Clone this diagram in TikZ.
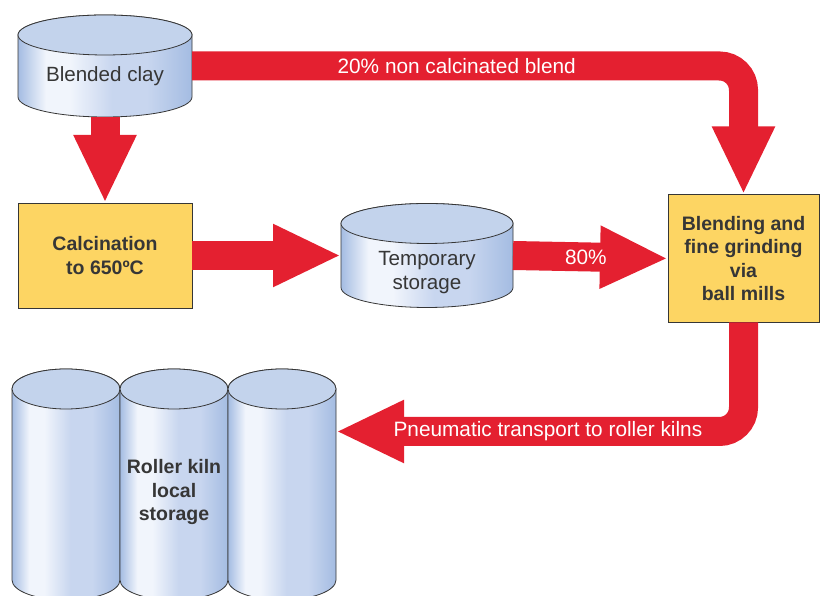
\documentclass[tikz,border=0pt]{standalone}
\usepackage{fontspec}
\setmainfont{Liberation Sans}
\usetikzlibrary{arrows.meta,calc,positioning,backgrounds}

\definecolor{flowred}{HTML}{E42030}
\definecolor{boxfill}{HTML}{FDD563}
\definecolor{inkgray}{HTML}{363636}
\definecolor{tankedge}{HTML}{A4BCE2}
\definecolor{tankglow}{HTML}{F1F5FC}
\definecolor{tankmid}{HTML}{C8D6EF}
\definecolor{tanktopfill}{HTML}{C3D3EC}
% light band left of the middle, darker blue at both sides
\pgfdeclarehorizontalshading{tankshade}{100bp}{color(0bp)=(tankedge); color(25bp)=(tankedge); color(33bp)=(tankglow); color(40bp)=(tankglow); color(52bp)=(tankmid); color(62bp)=(tankmid); color(75bp)=(tankedge); color(100bp)=(tankedge)}

\begin{document}
\begin{tikzpicture}[x=1pt, y=1pt, node distance=1cm]
\tikzset{
    %Define the big arrow tip
    >={Triangle[length=68pt, width=58pt]},
    %Define style for the yellow boxes
    process/.style={
           rectangle,
           draw=inkgray, thick,
           fill=boxfill,
           text=inkgray,
           font=\bfseries\fontsize{19.5}{23.5}\selectfont,
           align=center,
           inner sep=0pt, outer sep=0pt},
    % Define style for the storage cylinders
    tank/.style={
           rectangle,
           inner sep=0pt, outer sep=0pt},
    tanktext/.style={
           text=inkgray,
           align=center,
           font=\fontsize{20.6}{23.5}\selectfont},
    tankbody/.style={draw=inkgray, line width=0.8pt, shading=tankshade},
    tanktop/.style={draw=inkgray, line width=0.8pt, fill=tanktopfill},
    % Define arrow style
    flow/.style={
           ->,
           draw=flowred,
           line width=29pt},
    flowtext/.style={
           text=white,
           font=\fontsize{20.8}{23.5}\selectfont}
}
\useasboundingbox (0,0) rectangle (821,596);

 %nodes
 \node[tank, minimum width=174pt, minimum height=62pt,
       label={[tanktext, yshift=-10pt]center:Blended clay}] (clay) at (105,530) {};
 \node[process, minimum width=174pt, minimum height=105pt, below=106pt of clay]
 (calc) {Calcination\\to 650ºC};
 \node[tank, minimum width=172pt, minimum height=64pt, right=149pt of calc,
       label={[tanktext, yshift=-17pt]center:Temporary\\storage}] (temp) {};
 \node[process, minimum width=151pt, minimum height=128pt, right=155pt of temp, yshift=-3pt]
 (blend) {Blending and\\fine grinding\\via\\ball mills};

 % three kiln silos standing side by side
 \node[tank, minimum width=108pt, minimum height=191pt] (kilnA) at (66,111.5) {};
 \node[tank, minimum width=108pt, minimum height=191pt, right=0pt of kilnA,
       label={[tanktext, font=\bfseries\fontsize{19.5}{23.5}\selectfont, yshift=-8pt]center:Roller kiln\\local\\storage}] (kilnB) {};
 \node[tank, minimum width=108pt, minimum height=191pt, right=0pt of kilnB] (kilnC) {};

 % cylinders go behind the labels
 \begin{scope}[on background layer]
 \foreach \t in {clay,temp,kilnA,kilnB,kilnC}{
   \shadedraw[tankbody] let \p1=($(\t.east)-(\t.west)$) in
      (\t.north west) -- (\t.south west)
      arc[start angle=180, end angle=360, x radius=0.5*\x1, y radius=20pt]
      -- (\t.north east)
      arc[start angle=0, end angle=180, x radius=0.5*\x1, y radius=20pt] -- cycle;
   \filldraw[tanktop] let \p1=($(\t.east)-(\t.west)$) in
      (\t.north) ellipse[x radius=0.5*\x1, y radius=20pt];
 }
 \end{scope}

 % flows
 \draw[flow] ([yshift=-20pt]clay.south) -- (calc.north);
 \draw[flow, rounded corners=24pt] (clay.east)
   -| node[flowtext, pos=0.24] {20\% non calcinated blend} (blend.north);
 \draw[flow] (calc.east) -- (temp.west);
 \draw[flow] (temp.east) -- node[flowtext, pos=0.47] {80\%} (blend.west);
 \draw[flow, rounded corners=24pt] (blend.south)
   |- node[flowtext, pos=0.74] {Pneumatic transport to roller kilns} ([yshift=53pt]kilnC.east);
\end{tikzpicture}
\end{document}
